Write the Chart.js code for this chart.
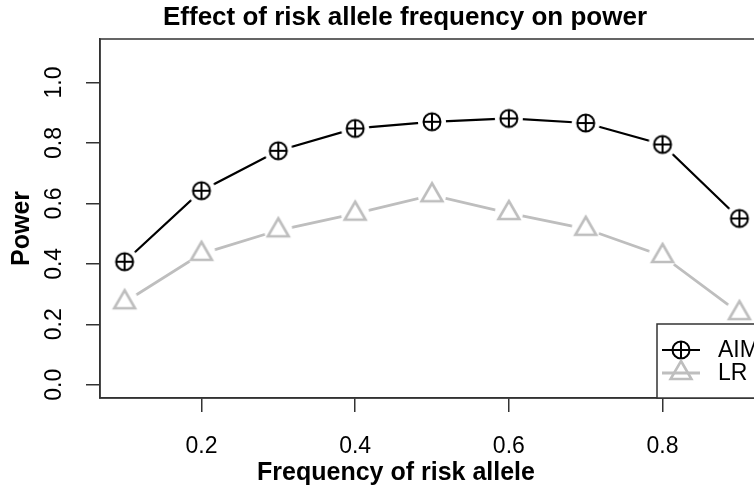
<!DOCTYPE html>
<html>
<head>
<meta charset="utf-8">
<script src="https://cdn.jsdelivr.net/npm/chart.js@4.4.1/dist/chart.umd.min.js"></script>
<style>
  html, body { margin: 0; padding: 0; background: #fff; overflow: hidden; width: 754px; height: 486px; }
  canvas { display: block; }
</style>
</head>
<body>
<canvas id="chart" width="864" height="486"></canvas>
<script>
/* ---------- DATA ---------- */
const freqs    = [0.1, 0.2, 0.3, 0.4, 0.5, 0.6, 0.7, 0.8, 0.9];
const aimPower = [0.407, 0.642, 0.774, 0.848, 0.870, 0.881, 0.866, 0.795, 0.550];
const lrPower  = [0.273, 0.433, 0.511, 0.566, 0.627, 0.568, 0.516, 0.426, 0.237];
const xTicks   = [0.2, 0.4, 0.6, 0.8];
const yTicks   = [0.0, 0.2, 0.4, 0.6, 0.8, 1.0];

const mainTitle = 'Effect of risk allele frequency on power';
const xTitle    = 'Frequency of risk allele';
const yTitle    = 'Power';

const FONT = '"Liberation Sans", Arial, Helvetica, sans-serif';
const GREY = '#bebebe';

/* ---------- MARKERS ---------- */
// R's type="b" leaves a gap round each point, so chart markers get a white halo
function drawCirclePlus(g, x, y) {
  g.strokeStyle = '#000';
  g.lineWidth = 2;
  g.beginPath(); g.arc(x, y, 8.5, 0, 2 * Math.PI); g.stroke();
  g.beginPath();
  g.moveTo(x - 8.5, y); g.lineTo(x + 8.5, y);
  g.moveTo(x, y - 8.5); g.lineTo(x, y + 8.5);
  g.stroke();
}

function drawTriangle(g, x, y) {
  const r = 12;
  g.strokeStyle = GREY;
  g.lineWidth = 2.6;
  g.lineJoin = 'miter';
  g.beginPath();
  g.moveTo(x, y - r);
  g.lineTo(x + r * 0.866, y + r / 2);
  g.lineTo(x - r * 0.866, y + r / 2);
  g.closePath();
  g.stroke();
}

function makeMarker(drawFn) {
  const c = document.createElement('canvas');
  c.width = 32; c.height = 32;
  const g = c.getContext('2d');
  g.fillStyle = '#fff';
  g.beginPath(); g.arc(16, 16, 14, 0, 2 * Math.PI); g.fill();
  drawFn(g, 16, 16);
  return c;
}

const aimMarker = makeMarker(drawCirclePlus);
const lrMarker  = makeMarker(drawTriangle);

/* ---------- PLUGINS ---------- */
const boxPlugin = {
  id: 'box',
  afterDraw(chart) {
    const { ctx, chartArea: a } = chart;
    ctx.save();
    ctx.strokeStyle = '#333';
    ctx.lineWidth = 1.5;
    ctx.strokeRect(a.left, a.top, a.right - a.left, a.bottom - a.top);
    ctx.restore();
  }
};

// titles placed like the R figure (not centred on the visible plot box)
const titlesPlugin = {
  id: 'rTitles',
  afterDraw(chart) {
    const ctx = chart.ctx;
    ctx.save();
    ctx.fillStyle = '#000';
    ctx.textAlign = 'center';
    ctx.textBaseline = 'alphabetic';
    ctx.font = 'bold 26px ' + FONT;
    ctx.fillText(mainTitle, 405, 25);
    ctx.font = 'bold 25px ' + FONT;
    ctx.fillText(xTitle, 396, 480);
    ctx.translate(28.5, 228.5);
    ctx.rotate(-Math.PI / 2);
    ctx.fillText(yTitle, 0, 0);
    ctx.restore();
  }
};

const legendPlugin = {
  id: 'rLegend',
  afterDraw(chart) {
    const { ctx, chartArea: a } = chart;
    const w = 107, h = 74;
    const left = a.right - w, top = a.bottom - h;
    ctx.save();
    ctx.fillStyle = '#fff';
    ctx.fillRect(left, top, w, h);
    ctx.strokeStyle = '#333';
    ctx.lineWidth = 1.5;
    ctx.strokeRect(left, top, w, h);

    const rows = [
      { label: chart.data.datasets[0].label, color: '#000', width: 2.2, draw: drawCirclePlus, y: top + 26 },
      { label: chart.data.datasets[1].label, color: GREY, width: 2.8, draw: drawTriangle, y: top + 49 }
    ];
    rows.forEach(r => {
      ctx.strokeStyle = r.color;
      ctx.lineWidth = r.width;
      ctx.beginPath();
      ctx.moveTo(left + 5, r.y); ctx.lineTo(left + 43, r.y);
      ctx.stroke();
      r.draw(ctx, left + 24, r.y);
      ctx.fillStyle = '#000';
      ctx.font = '23px ' + FONT;
      ctx.textBaseline = 'middle';
      ctx.textAlign = 'left';
      ctx.fillText(r.label, left + 61, r.y + 1);
    });
    ctx.restore();
  }
};

/* ---------- CHART ---------- */
const axisGrid = { drawOnChartArea: false, tickLength: 14, color: '#333', lineWidth: 1.5 };
const axisBorder = { display: true, color: '#333', width: 1.5 };

new Chart(document.getElementById('chart').getContext('2d'), {
  type: 'line',
  data: {
    datasets: [
      {
        label: 'AIM',
        data: freqs.map((f, i) => ({ x: f, y: aimPower[i] })),
        borderColor: '#000',
        borderWidth: 2.2,
        pointStyle: aimMarker,
        pointRadius: 14,
        tension: 0
      },
      {
        label: 'LR',
        data: freqs.map((f, i) => ({ x: f, y: lrPower[i] })),
        borderColor: GREY,
        borderWidth: 2.8,
        pointStyle: lrMarker,
        pointRadius: 14,
        tension: 0
      }
    ]
  },
  options: {
    responsive: false,
    animation: false,
    devicePixelRatio: 1,
    layout: { padding: { left: 0, right: 100, top: 39, bottom: 0 } },
    plugins: {
      legend: { display: false },
      tooltip: { enabled: false },
      title: { display: false }
    },
    scales: {
      x: {
        type: 'linear',
        min: 0.068,
        max: 0.932,
        afterBuildTicks: s => { s.ticks = xTicks.map(v => ({ value: v })); },
        afterFit: s => { s.height = 88; },
        grid: axisGrid,
        border: axisBorder,
        ticks: {
          color: '#000',
          font: { family: FONT, size: 23 },
          padding: 21,
          callback: v => v.toFixed(1)
        }
      },
      y: {
        type: 'linear',
        min: -0.044,
        max: 1.144,
        afterBuildTicks: s => { s.ticks = yTicks.map(v => ({ value: v })); },
        afterFit: s => { s.width = 100; },
        grid: axisGrid,
        border: axisBorder,
        ticks: {
          color: '#000',
          font: { family: FONT, size: 23 },
          minRotation: 90,
          maxRotation: 90,
          crossAlign: 'center',
          padding: 15,
          callback: v => v.toFixed(1)
        }
      }
    }
  },
  plugins: [boxPlugin, titlesPlugin, legendPlugin]
});
</script>
</body>
</html>
